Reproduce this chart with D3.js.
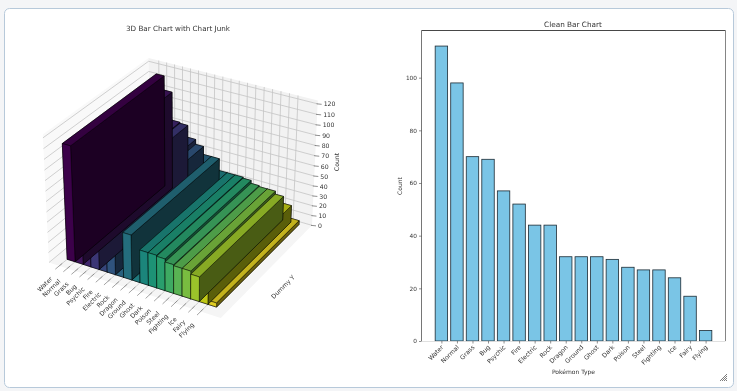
<!DOCTYPE html>
<html>
<head>
<meta charset="utf-8">
<script src="https://cdn.jsdelivr.net/npm/d3@7"></script>
<style>
  html, body { margin: 0; padding: 0; background: #f4f5f7; overflow: hidden; }
  svg { display: block; filter: blur(0.3px); }
  text { font-family: "DejaVu Sans", sans-serif; fill: #333; }
</style>
</head>
<body>
<script>
const types = ['Water', 'Normal', 'Grass', 'Bug', 'Psychic', 'Fire', 'Electric', 'Rock', 'Dragon',
  'Ground', 'Ghost', 'Dark', 'Poison', 'Steel', 'Fighting', 'Ice', 'Fairy', 'Flying']
const counts = [112, 98, 70, 69, 57, 52, 44, 44, 32, 32, 32, 31, 28, 27, 27, 24, 17, 4]
const zTicks = d3.range(0, 121, 10)
const yTicks = [0, 20, 40, 60, 80, 100]

const svg = d3.select('body').append('svg').attr('width', 737).attr('height', 391)

// card behind both charts
svg.append('rect').attr('x', 4.5).attr('y', 8.5).attr('width', 729).attr('height', 379)
  .attr('rx', 5).attr('fill', '#fff').attr('stroke', '#b7c9da')

// ---------- left: 3d bars, same camera as mplot3d (elev 30, azim -60, dist 10)
const elev = 30 * Math.PI / 180, azim = -60 * Math.PI / 180, dist = 10
const box = [4, 4, 3].map(d => d * 1.8294640721620434 * 25 / 24 / Math.sqrt(41))
const sx = d3.scaleLinear().domain([-1.3, 19.3]).range([0, box[0]])
const sy = d3.scaleLinear().domain([-0.08, 1.03]).range([0, box[1]])
const sz = d3.scaleLinear().domain([0, 123.2]).range([0, box[2]])

const n = [Math.cos(elev) * Math.cos(azim), Math.cos(elev) * Math.sin(azim), Math.sin(elev)]
const eye = box.map((b, i) => b / 2 + dist * n[i])
const cross = (a, b) => [a[1] * b[2] - a[2] * b[1], a[2] * b[0] - a[0] * b[2], a[0] * b[1] - a[1] * b[0]]
const dot = (a, b) => a[0] * b[0] + a[1] * b[1] + a[2] * b[2]
const uLen = Math.hypot(...cross([0, 0, 1], n))
const u = cross([0, 0, 1], n).map(d => d / uLen)
const v = cross(n, u)

const x0 = sx.domain()[0], x1 = sx.domain()[1]
const y0 = sy.domain()[0], y1 = sy.domain()[1]
const zTop = sz.domain()[1]

const depthOf = p => -dot([sx(p[0]) - eye[0], sy(p[1]) - eye[1], sz(p[2]) - eye[2]], n)
function camera(x, y, z) {
  const d = [sx(x) - eye[0], sy(y) - eye[1], sz(z) - eye[2]]
  const w = depthOf([x, y, z])
  return [dot(d, u) / w, dot(d, v) / w]
}
const px3 = d3.scaleLinear()
  .domain([camera(x0, y0, 0)[0], camera(x1, y1, 0)[0]]).range([49, 312])
const py3 = d3.scaleLinear()
  .domain([camera(x1, y0, 0)[1], camera(x0, y1, zTop)[1]]).range([318, 58])
const project = (x, y, z) => {
  const c = camera(x, y, z)
  return [px3(c[0]), py3(c[1])]
}
const poly = pts => d3.line()(pts.map(p => project(...p))) + 'Z'
const left = svg.append('g')

// panes
const panes = [
  { fill: '#f9f9f9', pts: [[x0, y0, 0], [x0, y1, 0], [x0, y1, zTop], [x0, y0, zTop]] },
  { fill: '#f2f2f2', pts: [[x0, y1, 0], [x1, y1, 0], [x1, y1, zTop], [x0, y1, zTop]] },
  { fill: '#f5f5f5', pts: [[x0, y0, 0], [x1, y0, 0], [x1, y1, 0], [x0, y1, 0]] }
]
left.selectAll('path.pane').data(panes).join('path').attr('class', 'pane')
  .attr('d', d => poly(d.pts)).attr('fill', d => d.fill)

// grid on the panes
const gridLines = []
zTicks.forEach(z => {
  gridLines.push([[x0, y0, z], [x0, y1, z]])
  gridLines.push([[x0, y1, z], [x1, y1, z]])
})
types.forEach((t, i) => {
  gridLines.push([[i, y1, 0], [i, y1, zTop]])
  gridLines.push([[i, y0, 0], [i, y1, 0]])
})
left.selectAll('path.grid').data(gridLines).join('path').attr('class', 'grid')
  .attr('d', d => d3.line()(d.map(p => project(...p))))
  .attr('stroke', '#c4c4c4').attr('stroke-width', 0.8).attr('fill', 'none')

// same shading as mplot3d's LightSource
const shade = (c, k) => {
  const r = d3.rgb(c)
  return d3.rgb(r.r * k, r.g * k, r.b * k).formatHex()
}
const colorOf = i => d3.interpolateViridis(i / (types.length - 1))
const barW = 1, barY0 = 0, barY1 = 1

// one collection per bar: mplot3d orders collections by their nearest vertex,
// which is why the tall bars paint over their neighbours
const barList = counts.map((c, i) => {
  const a = i, b = i + barW, f = colorOf(i)
  const faces = [
    [0.533, [[a, barY0, 0], [b, barY0, 0], [b, barY1, 0], [a, barY1, 0]]],
    [0.767, [[a, barY0, c], [b, barY0, c], [b, barY1, c], [a, barY1, c]]],
    [0.883, [[a, barY0, 0], [b, barY0, 0], [b, barY0, c], [a, barY0, c]]],
    [0.417, [[a, barY1, 0], [b, barY1, 0], [b, barY1, c], [a, barY1, c]]],
    [0.883, [[a, barY0, 0], [a, barY1, 0], [a, barY1, c], [a, barY0, c]]],
    [0.417, [[b, barY0, 0], [b, barY1, 0], [b, barY1, c], [b, barY0, c]]]
  ].map(([k, pts]) => ({ fill: shade(f, k), pts, order: d3.mean(pts, p => -1 / depthOf(p)) }))
    .sort((p, q) => d3.descending(p.order, q.order))
  return { faces, near: d3.min(faces, d => d3.min(d.pts, p => -1 / depthOf(p))) }
}).sort((p, q) => d3.descending(p.near, q.near))

left.selectAll('g.bar').data(barList).join('g').attr('class', 'bar')
  .selectAll('path').data(d => d.faces).join('path')
  .attr('d', d => poly(d.pts)).attr('fill', d => d.fill)
  .attr('stroke', '#000').attr('stroke-width', 0.6).attr('stroke-opacity', 0.8)

// x ticks and labels
const tickOut = -0.04
types.forEach((t, i) => {
  const a = project(i, y0 + 0.03, 0), b = project(i, y0 + tickOut, 0)
  left.append('path').attr('d', d3.line()([a, b])).attr('stroke', '#666').attr('stroke-width', 0.6)
  left.append('text').attr('transform', `translate(${b[0] - 4},${b[1] + 8.5}) rotate(-45)`)
    .attr('text-anchor', 'end').attr('dy', '0.35em').attr('font-size', 6.2).text(t)
})

// z ticks and labels
zTicks.forEach(z => {
  const p = project(x1, y1, z)
  left.append('path').attr('d', d3.line()([[p[0] - 1, p[1]], [p[0] + 4, p[1] + 0.5]]))
    .attr('stroke', '#444').attr('stroke-width', 0.6)
  left.append('text').attr('x', p[0] + 6).attr('y', p[1] + 0.5).attr('dy', '0.35em')
    .attr('font-size', 6.2).text(z)
})

left.append('text').attr('x', 178).attr('y', 28).attr('dy', '0.35em').attr('text-anchor', 'middle')
  .attr('font-size', 7.2).text('3D Bar Chart with Chart Junk')
left.append('text').attr('transform', 'translate(337,162) rotate(-90)').attr('text-anchor', 'middle')
  .attr('dy', '0.35em').attr('font-size', 6.2).text('Count')
left.append('text').attr('transform', 'translate(283,287) rotate(-45)').attr('text-anchor', 'middle')
  .attr('dy', '0.35em').attr('font-size', 6.2).text('Dummy Y')

// ---------- right: plain bars
const bx = d3.scaleLinear().domain([-1.28, 18.28]).range([421.5, 725.5])
const by = d3.scaleLinear().domain([0, 118.1]).range([341, 30])
const right = svg.append('g')

right.selectAll('rect.clean').data(counts).join('rect').attr('class', 'clean')
  .attr('x', (d, i) => bx(i - 0.4)).attr('width', bx(0.8) - bx(0))
  .attr('y', d => by(d)).attr('height', d => by(0) - by(d))
  .attr('fill', '#7ac5e6').attr('stroke', '#1c2a33').attr('stroke-width', 0.8)

// spines, the bottom one is faint in the picture
const spines = [
  { a: [421.5, 30.5], b: [725.5, 30.5], c: '#333' },
  { a: [421.5, 30.5], b: [421.5, 341], c: '#666' },
  { a: [725.5, 30.5], b: [725.5, 341], c: '#777' },
  { a: [421.5, 341.5], b: [725.5, 341.5], c: '#ddd' }
]
right.selectAll('path.spine').data(spines).join('path').attr('class', 'spine')
  .attr('d', d => d3.line()([d.a, d.b])).attr('stroke', d => d.c).attr('stroke-width', 0.9)

const yAxis = right.append('g').attr('transform', 'translate(421.5,0)')
  .call(d3.axisLeft(by).tickValues(yTicks).tickSize(2.5).tickPadding(2))
yAxis.select('.domain').remove()
yAxis.selectAll('text').attr('font-size', 5.8)

const xAxis = right.append('g').attr('transform', 'translate(0,341)')
  .call(d3.axisBottom(bx).tickValues(d3.range(types.length)).tickFormat(i => types[i]).tickSize(2.5))
xAxis.select('.domain').remove()
xAxis.selectAll('text').attr('font-size', 6.2).attr('text-anchor', 'end')
  .attr('transform', 'translate(-1,1) rotate(-45)').attr('dy', '0.35em').attr('x', -2).attr('y', 4)
svg.selectAll('.tick line').attr('stroke', '#444').attr('stroke-width', 0.6)

right.append('text').attr('x', 573).attr('y', 24).attr('dy', '0.35em').attr('text-anchor', 'middle')
  .attr('font-size', 7.3).text('Clean Bar Chart')
right.append('text').attr('x', 573.5).attr('y', 371.5).attr('dy', '0.35em').attr('text-anchor', 'middle')
  .attr('font-size', 6).text('Pokémon Type')
right.append('text').attr('transform', 'translate(400,186) rotate(-90)').attr('text-anchor', 'middle')
  .attr('dy', '0.35em').attr('font-size', 6).text('Count')

// resize grip in the card corner
svg.selectAll('path.grip').data([0, 1, 2, 3]).join('path').attr('class', 'grip')
  .attr('d', d => `M${720 + d * 2} 381L727 ${374 + d * 2}`)
  .attr('stroke', '#444').attr('stroke-width', 0.7)
</script>
</body>
</html>
